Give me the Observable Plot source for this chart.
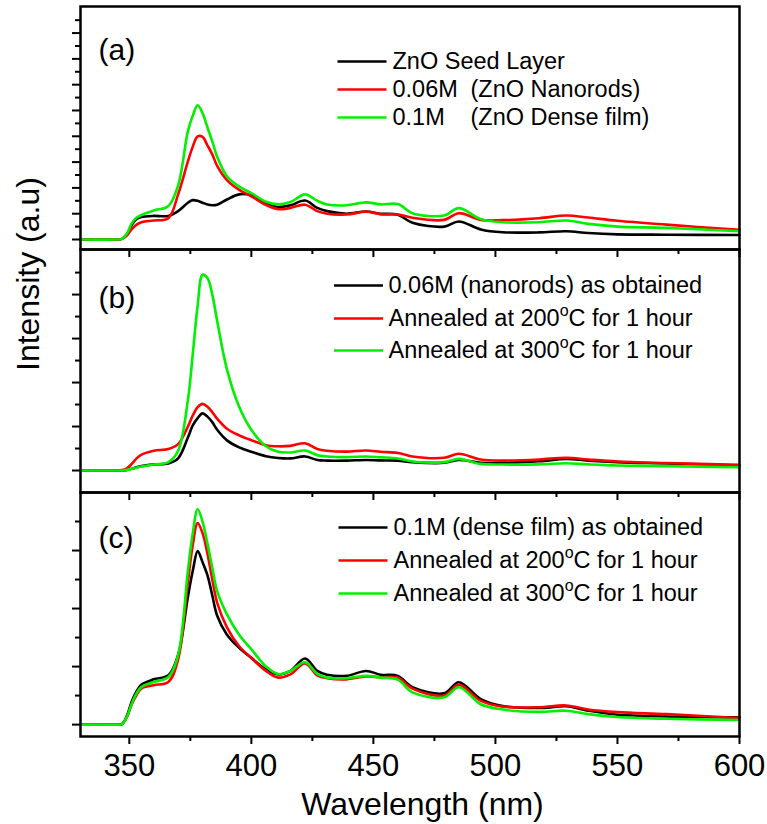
<!DOCTYPE html>
<html><head><meta charset="utf-8">
<script src="https://cdn.jsdelivr.net/npm/d3@7"></script>
<script src="https://cdn.jsdelivr.net/npm/@observablehq/plot@0.6"></script>
<style>
body{margin:0;background:#fff;}
#chart{position:relative;width:767px;height:824px;background:#fff;}
</style></head><body><div id="chart"></div>
<script>
// Shared wavelength grid (nm)
const wavelength = [330,344,347,349,351,353,355,360,366,370,374,376,378,380,382,384,386,390,395,400,406,411,416,422,427,431,439,447,453,460,466,479,485,494,503,518,529,538,550,570,600];

// Panel (a)
const seedLayer   = [0,0,0.05,0.4,1.15,1.6,1.75,1.83,1.83,2.2,2.85,3.05,3.0,2.85,2.72,2.66,2.7,3.1,3.5,3.42,2.8,2.52,2.65,3.02,2.45,2.2,2.0,2.17,2.0,1.92,1.3,1.0,1.4,0.78,0.56,0.55,0.64,0.5,0.4,0.37,0.35];
const nanorods006 = [0,0,0.05,0.3,0.8,1.15,1.34,1.47,1.65,3.5,6.05,7.2,8.0,7.95,7.3,6.6,5.7,4.6,3.85,3.35,2.68,2.35,2.45,2.7,2.2,2.0,1.94,2.15,1.95,1.94,1.68,1.52,2.04,1.52,1.5,1.65,1.86,1.7,1.45,1.15,0.75];
const denseFilm01 = [0,0,0.05,0.45,1.25,1.7,1.9,2.25,2.6,4.2,8.4,9.6,10.4,9.8,8.7,7.6,6.4,4.9,4.1,3.6,2.92,2.72,2.9,3.5,3.0,2.72,2.65,2.88,2.72,2.75,2.04,1.86,2.43,1.58,1.34,1.34,1.47,1.21,1.0,0.9,0.64];

// Panel (b)
const nrAsObtained = [0,0,0,0.03,0.08,0.15,0.2,0.28,0.32,0.55,1.5,2.05,2.38,2.6,2.45,2.2,1.85,1.37,1.05,0.85,0.65,0.57,0.55,0.64,0.48,0.45,0.45,0.48,0.46,0.45,0.38,0.35,0.48,0.35,0.34,0.42,0.53,0.45,0.38,0.32,0.23];
const nrAnneal200  = [0,0,0.02,0.1,0.3,0.55,0.72,0.9,0.98,1.2,2.0,2.5,2.88,3.03,2.9,2.65,2.35,1.9,1.6,1.38,1.15,1.1,1.12,1.24,0.98,0.9,0.86,0.91,0.85,0.8,0.64,0.58,0.76,0.5,0.45,0.5,0.58,0.5,0.41,0.34,0.26];
const nrAnneal300  = [0,0,0,0.03,0.08,0.13,0.18,0.27,0.38,0.9,3.2,5.3,7.5,8.9,8.75,8.0,6.8,4.6,2.9,1.85,1.1,0.85,0.82,0.91,0.7,0.64,0.61,0.64,0.6,0.55,0.41,0.38,0.53,0.3,0.27,0.28,0.33,0.28,0.23,0.2,0.15];

// Panel (c)
const dfAsObtained = [0,0,0.02,0.3,0.8,1.15,1.38,1.56,1.7,2.4,4.4,5.3,5.98,5.6,5.15,4.45,3.75,3.1,2.65,2.3,1.9,1.73,1.85,2.28,1.85,1.72,1.68,1.85,1.72,1.68,1.29,1.08,1.46,0.88,0.64,0.57,0.63,0.48,0.34,0.28,0.25];
const dfAnneal200  = [0,0,0.02,0.25,0.7,1.02,1.25,1.36,1.47,2.25,4.9,6.2,6.95,6.6,5.9,5.0,4.2,3.35,2.7,2.3,1.85,1.62,1.73,2.11,1.7,1.6,1.56,1.66,1.63,1.62,1.24,1.0,1.37,0.82,0.62,0.6,0.66,0.52,0.43,0.36,0.23];
const dfAnneal300  = [0,0,0.02,0.27,0.72,1.08,1.3,1.47,1.64,2.4,5.3,6.6,7.42,7.0,6.25,5.4,4.6,3.8,3.1,2.6,2.0,1.74,1.85,2.15,1.75,1.62,1.6,1.68,1.62,1.55,1.11,0.94,1.29,0.7,0.52,0.44,0.48,0.36,0.26,0.2,0.16];

const seriesColors = ["#000000", "#ff0000", "#00f000"];
const panelLetters = ["(a)", "(b)", "(c)"];
const legendA = ["ZnO Seed Layer", "0.06M", "0.1M"];
const legendANotes = ["", "(ZnO Nanorods)", "(ZnO Dense film)"];
const legendB = ["0.06M (nanorods) as obtained", "Annealed at 200°C for 1 hour", "Annealed at 300°C for 1 hour"];
const legendC = ["0.1M (dense film) as obtained", "Annealed at 200°C for 1 hour", "Annealed at 300°C for 1 hour"];
const majorTicksX = [350, 400, 450, 500, 550, 600];
const minorTicksX = [375, 425, 475, 525, 575];
const xLabel = "Wavelength (nm)";
const yLabel = "Intensity (a.u)";

const FONT = "'Liberation Sans', Arial, Helvetica, sans-serif";
const lineSymbol = {draw(ctx) { ctx.moveTo(-24.5, 0); ctx.lineTo(24.5, 0); }};

function range(a, b) { const r = []; for (let i = a; i <= b; i++) r.push(i); return r; }

function makePanel(cfg) {
  const marks = [];
  cfg.series.forEach((vals, i) => {
    marks.push(Plot.line(wavelength.map((w, j) => ({w, v: vals[j]})),
      {x: "w", y: "v", stroke: seriesColors[i], strokeWidth: 2.6, curve: "catmull-rom"}));
  });
  // y ticks (no labels)
  const yt = range(0, cfg.yMaxTick);
  marks.push(Plot.axisY({anchor: "left", ticks: yt.filter(d => d % 2 === 0), tickSize: 8, fill: null, stroke: "black", strokeWidth: 2}));
  marks.push(Plot.axisY({anchor: "left", ticks: yt.filter(d => d % 2 === 1), tickSize: 5, fill: null, stroke: "black", strokeWidth: 2}));
  // x ticks
  if (cfg.xLabels) {
    marks.push(Plot.axisX({anchor: "bottom", ticks: majorTicksX, tickSize: 8, tickPadding: 9, stroke: "black", strokeWidth: 2,
      fill: "black", fontSize: 31, tickFormat: d => String(d), label: null}));
  } else {
    marks.push(Plot.axisX({anchor: "bottom", ticks: majorTicksX, tickSize: 8, fill: null, stroke: "black", strokeWidth: 2}));
  }
  marks.push(Plot.axisX({anchor: "bottom", ticks: minorTicksX, tickSize: 5, fill: null, stroke: "black", strokeWidth: 2}));
  marks.push(Plot.frame({stroke: "black", strokeWidth: 2.5}));
  // panel letter
  marks.push(Plot.text([cfg.letter], {text: d => d, frameAnchor: "top-left", dx: 18, dy: cfg.letterDy,
    textAnchor: "start", lineAnchor: "middle", fontSize: 30, fill: "black"}));
  // legend
  cfg.legend.forEach((label, i) => {
    marks.push(Plot.dot([label], {frameAnchor: "top-left", dx: cfg.swatchDx, dy: cfg.legendDy[i],
      symbol: lineSymbol, stroke: seriesColors[i], strokeWidth: 2.6, fill: "none"}));
    marks.push(Plot.text([label], {text: d => d, frameAnchor: "top-left", dx: cfg.textDx, dy: cfg.legendDy[i],
      textAnchor: "start", lineAnchor: "middle", fontSize: 23.5, fill: "black"}));
    if (cfg.notes && cfg.notes[i]) {
      marks.push(Plot.text([cfg.notes[i]], {text: d => d, frameAnchor: "top-left", dx: cfg.noteDx, dy: cfg.legendDy[i],
        textAnchor: "start", lineAnchor: "middle", fontSize: 23.5, fill: "black"}));
    }
  });
  if (cfg.extra) marks.push(...cfg.extra);

  const svg = Plot.plot({
    width: 767, height: cfg.height,
    marginLeft: 80, marginRight: 28, marginTop: cfg.marginTop, marginBottom: cfg.marginBottom,
    x: {domain: [330, 600]},
    y: {domain: cfg.yDomain},
    marks
  });
  svg.style.position = "absolute";
  svg.style.left = "0px";
  svg.style.top = cfg.top + "px";
  svg.style.overflow = "visible";
  svg.style.background = "transparent";
  svg.style.fontFamily = FONT;
  svg.style.maxWidth = "none";
  // superscript degree
  const ns = "http://www.w3.org/2000/svg";
  svg.querySelectorAll("text").forEach(t => {
    const s = t.textContent;
    if (!s.includes("°")) return;
    const [before, after] = s.split("°");
    t.textContent = "";
    const a = document.createElementNS(ns, "tspan"); a.textContent = before;
    const b = document.createElementNS(ns, "tspan"); b.textContent = "o"; b.setAttribute("font-size", "16"); b.setAttribute("dy", "-10");
    const c = document.createElementNS(ns, "tspan"); c.textContent = after; c.setAttribute("dy", "10");
    t.append(a, b, c);
  });
  return svg;
}

const chart = document.getElementById("chart");

chart.append(makePanel({
  series: [seedLayer, nanorods006, denseFilm01],
  yDomain: [-0.775, 18.06], yMaxTick: 17,
  height: 261, marginTop: 6, marginBottom: 12, top: 0,
  letter: panelLetters[0], letterDy: 44,
  legend: legendA, notes: legendANotes, legendDy: [55, 83, 111],
  swatchDx: 281.5, textDx: 312, noteDx: 390
}));

chart.append(makePanel({
  series: [nrAsObtained, nrAnneal200, nrAnneal300],
  yDomain: [-1.0, 10.05], yMaxTick: 9,
  height: 255, marginTop: 0, marginBottom: 12, top: 249,
  letter: panelLetters[1], letterDy: 48.5,
  legend: legendB, legendDy: [36, 69, 101],
  swatchDx: 278, textDx: 308,
  extra: [Plot.text([yLabel], {text: d => d, frameAnchor: "left", dx: -52, rotate: -90, fontSize: 32, fill: "black"})]
}));

chart.append(makePanel({
  series: [dfAsObtained, dfAnneal200, dfAnneal300],
  yDomain: [-0.41, 8.0], yMaxTick: 7,
  height: 332, marginTop: 0, marginBottom: 88, top: 492,
  letter: panelLetters[2], letterDy: 45.5,
  legend: legendC, legendDy: [35, 68, 101],
  swatchDx: 282.5, textDx: 313,
  xLabels: true,
  extra: [Plot.text([xLabel], {text: d => d, frameAnchor: "bottom", dx: 12.5, dy: 78, lineAnchor: "bottom", fontSize: 32, fill: "black"})]
}));
</script></body></html>
